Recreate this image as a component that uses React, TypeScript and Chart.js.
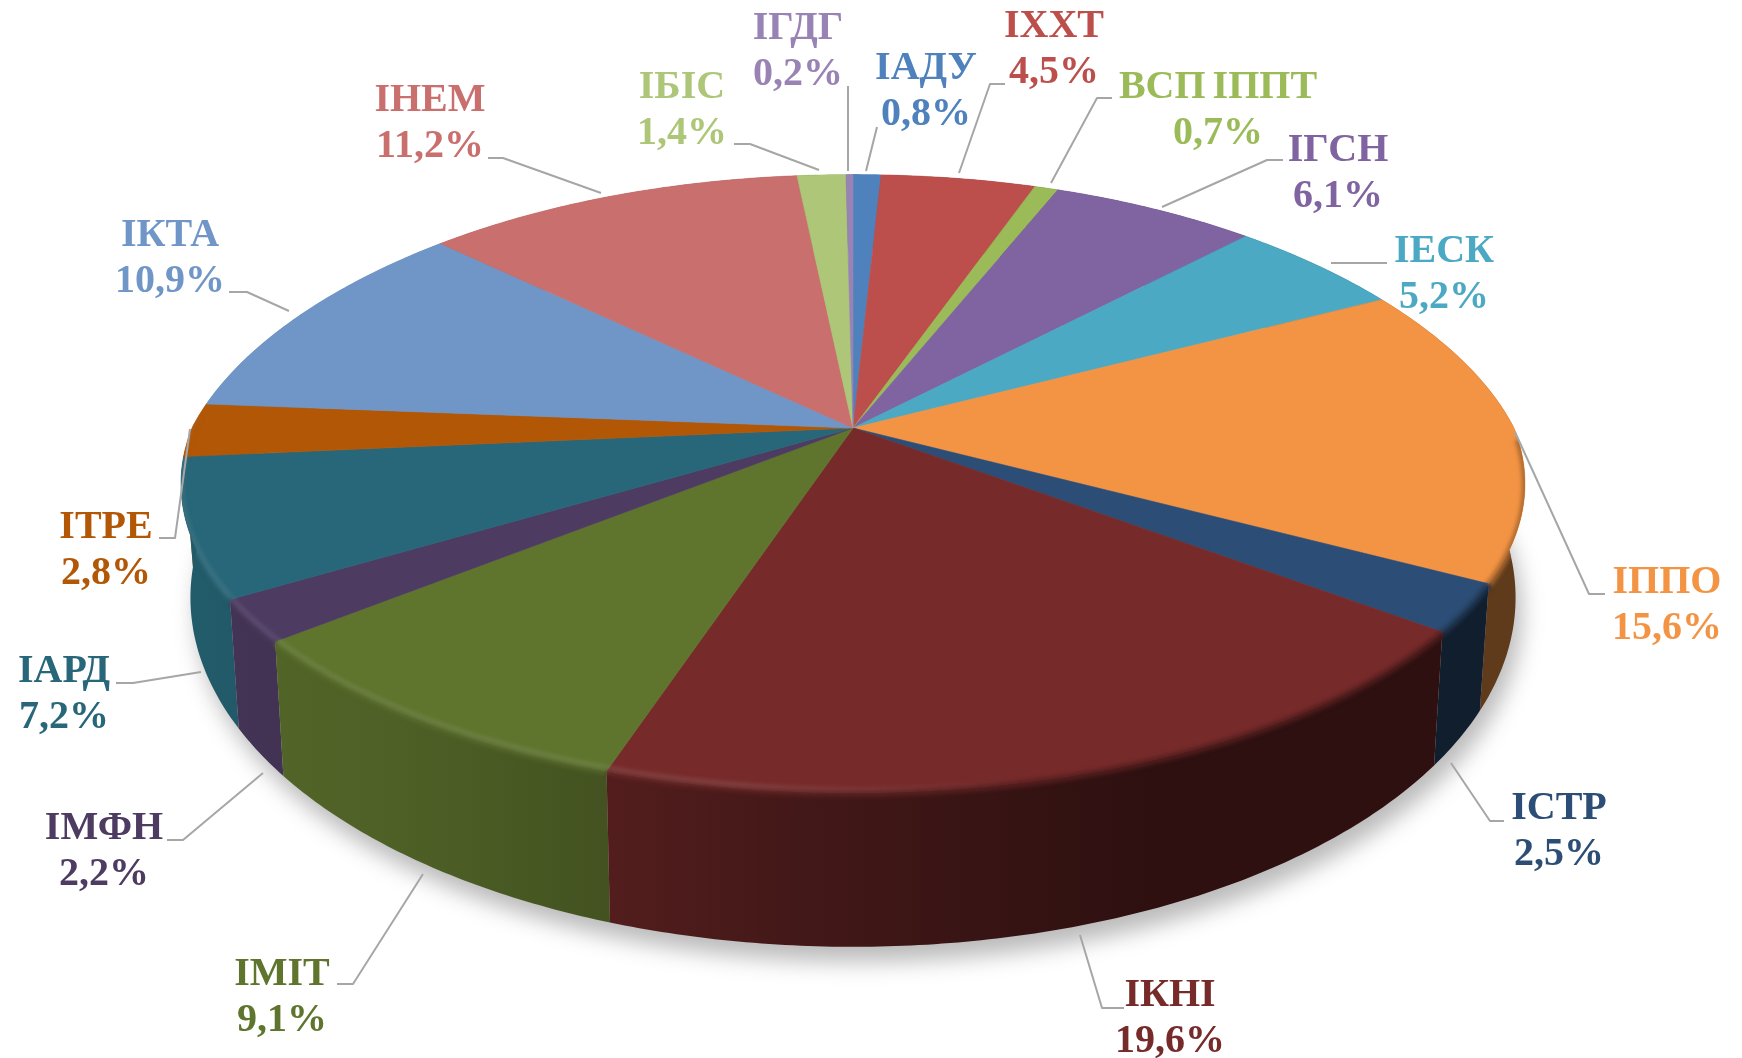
import React, { useEffect, useRef } from "react";
import { Chart, registerables } from "chart.js";

Chart.register(...registerables);

const categories = ["ІАДУ", "ІХХТ", "ВСП ІППТ", "ІГСН", "ІЕСК", "ІППО", "ІСТР", "ІКНІ", "ІМІТ", "ІМФН", "ІАРД", "ІТРЕ", "ІКТА", "ІНЕМ", "ІБІС", "ІГДГ"];
const shares = [0.8, 4.5, 0.7, 6.1, 5.2, 15.6, 2.5, 19.6, 9.1, 2.2, 7.2, 2.8, 10.9, 11.2, 1.4, 0.2];
const sliceColors = ["#4F81BD", "#BC4F4C", "#9BBB59", "#8064A2", "#4BA9C3", "#F39444", "#2C4D75", "#772A2A", "#5F752E", "#4D3B62", "#276779", "#B25706", "#7096C8", "#C96F6D", "#ADC677", "#9983B5"];

// label anchor (centre x, first baseline) for each category; the second line sits one line below
const labelX = [926, 1054, 1218, 1338, 1444, 1667, 1559, 1170, 282, 104, 64, 106, 170, 430, 682, 798];
const labelY1 = [79, 37, 98, 161, 262, 593, 819, 1006, 985, 839, 682, 538, 246, 111, 98, 39];
const leaderPaths: number[][][] = [
  [[877, 127], [866, 171]],
  [[1005, 84], [990, 84], [959, 173]],
  [[1112, 98], [1097, 98], [1051, 183]],
  [[1283, 160], [1267, 160], [1162, 207]],
  [[1387, 263], [1331, 263]],
  [[1605, 594], [1589, 594], [1515, 432]],
  [[1504, 821], [1490, 821], [1451, 763]],
  [[1124, 1008], [1102, 1008], [1080, 935]],
  [[337, 984], [353, 984], [423, 874]],
  [[167, 840], [183, 840], [263, 773]],
  [[116, 683], [133, 683], [201, 672]],
  [[159, 538], [175, 538], [190, 429]],
  [[229, 292], [247, 292], [289, 311]],
  [[488, 158], [503, 158], [601, 193]],
  [[734, 144], [750, 144], [819, 170]],
  [[848, 86], [848, 171]],
];

// projection of the flat disc into the tilted 3D view
const X0 = 853, Y0 = 428, AX = 661, AY = 299, K = 0.18;
const project = (theta: number) => {
  const u = Math.sin(theta), v = -Math.cos(theta), w = 1 - K * v;
  const squeeze = 1 - 0.05 * Math.max(0, -v) * Math.abs(u);
  return [X0 + (AX * u * squeeze) / w, Y0 + (AY * v) / w];
};
const lower = (p: number[]) => [X0 + 0.986 * (p[0] - X0), 728 + 1.13 * (p[1] - 599)];

const rgb = (hex: string) => [1, 3, 5].map((i) => parseInt(hex.slice(i, i + 2), 16));
const shade = (hex: string, f: number) => `rgb(${rgb(hex).map((c) => Math.round(c * f)).join(",")})`;
const wallStops: number[][] = [[190, 0.88], [400, 0.82], [610, 0.7], [800, 0.56], [1150, 0.39], [1742, 0.39]];

const samples = (a: number, b: number) => {
  const n = Math.max(2, Math.ceil((b - a) / 0.01));
  return Array.from({ length: n + 1 }, (_, i) => a + ((b - a) * i) / n);
};

const tracePoints = (ctx: CanvasRenderingContext2D, pts: number[][]) => {
  pts.forEach((p, i) => (i ? ctx.lineTo(p[0], p[1]) : ctx.moveTo(p[0], p[1])));
};

const pie3d = {
  id: "pie3d",
  beforeDatasetDraw(chart: any) {
    const ctx = chart.ctx as CanvasRenderingContext2D;
    const meta = chart.getDatasetMeta(0);
    const slices = meta.data.map((arc: any, i: number) => ({
      from: arc.startAngle + Math.PI / 2,
      to: arc.endAngle + Math.PI / 2,
      color: chart.data.datasets[0].backgroundColor[i] as string,
    }));
    const whole = samples(0, Math.PI * 2);
    const topRim = whole.map(project);
    const lowRim = topRim.map(lower);

    // soft drop shadow
    ctx.save();
    ctx.filter = "blur(11px)";
    ctx.fillStyle = "rgba(0,0,0,0.27)";
    ctx.beginPath();
    tracePoints(ctx, lowRim.map((p) => [p[0] + 6, p[1] + 15]));
    ctx.closePath();
    ctx.fill();
    ctx.restore();

    // side wall, back to front
    const depth = (s: any) => -Math.cos((s.from + s.to) / 2);
    for (const s of [...slices].sort((a, b) => depth(a) - depth(b))) {
      const g = ctx.createLinearGradient(0, 0, 1742, 0);
      wallStops.forEach(([x, f]) => g.addColorStop(x / 1742, shade(s.color, f)));
      const pts = samples(s.from, s.to).map(project);
      ctx.fillStyle = g;
      ctx.beginPath();
      tracePoints(ctx, pts);
      [...pts].reverse().forEach((p) => {
        const q = lower(p);
        ctx.lineTo(q[0], q[1]);
      });
      ctx.closePath();
      ctx.fill();
    }

    // top surface
    for (const s of slices) {
      ctx.fillStyle = s.color;
      ctx.strokeStyle = s.color;
      ctx.lineWidth = 0.6;
      ctx.beginPath();
      ctx.moveTo(X0, Y0);
      samples(s.from, s.to).map(project).forEach((p) => ctx.lineTo(p[0], p[1]));
      ctx.closePath();
      ctx.fill();
      ctx.stroke();
    }

    // rounded front rim, kept inside the body
    ctx.save();
    ctx.beginPath();
    tracePoints(ctx, topRim);
    ctx.closePath();
    tracePoints(ctx, lowRim);
    ctx.closePath();
    ctx.clip();
    const frontFrom = (92 * Math.PI) / 180, frontTo = (272 * Math.PI) / 180;
    for (const s of slices) {
      const a = Math.max(s.from, frontFrom), b = Math.min(s.to, frontTo);
      if (a >= b) continue;
      const arcPts = samples(a, b).map(project);
      const blend = ctx.createLinearGradient(0, 0, 1742, 0);
      wallStops.forEach(([x, f]) => blend.addColorStop(x / 1742, shade(s.color, (f + 1) / 2)));
      ctx.save();
      ctx.filter = "blur(2px)";
      ctx.lineCap = "butt";
      ctx.strokeStyle = blend;
      ctx.lineWidth = 6;
      ctx.beginPath();
      tracePoints(ctx, arcPts.map((p) => [p[0], p[1] + 1]));
      ctx.stroke();
      const glow = ctx.createLinearGradient(0, 0, 1742, 0);
      glow.addColorStop(0.1, "rgba(255,255,255,0.1)");
      glow.addColorStop(0.42, "rgba(255,255,255,0.12)");
      glow.addColorStop(0.6, "rgba(255,255,255,0)");
      ctx.strokeStyle = glow;
      ctx.lineWidth = 5;
      ctx.beginPath();
      tracePoints(ctx, arcPts.map((p) => [p[0], p[1] - 3]));
      ctx.stroke();
      ctx.restore();
    }
    ctx.restore();
    return false;
  },
  afterDraw(chart: any) {
    const ctx = chart.ctx as CanvasRenderingContext2D;
    ctx.save();
    ctx.strokeStyle = "#a6a6a6";
    ctx.lineWidth = 2;
    ctx.lineJoin = "round";
    leaderPaths.forEach((path) => {
      ctx.beginPath();
      tracePoints(ctx, path);
      ctx.stroke();
    });
    ctx.filter = "blur(0.5px)";
    ctx.font = 'bold 40px "Liberation Serif"';
    (ctx as any).wordSpacing = "-3px";
    ctx.textAlign = "center";
    ctx.textBaseline = "alphabetic";
    categories.forEach((name, i) => {
      ctx.fillStyle = sliceColors[i];
      ctx.fillText(name, labelX[i], labelY1[i]);
      ctx.fillText(`${shares[i].toFixed(1).replace(".", ",")}%`, labelX[i], labelY1[i] + 46);
    });
    ctx.restore();
  },
};

export default function App() {
  const ref = useRef<HTMLCanvasElement>(null);
  useEffect(() => {
    const chart = new Chart(ref.current!, {
      type: "pie",
      data: {
        labels: categories,
        datasets: [{ data: shares, backgroundColor: sliceColors, borderWidth: 0 }],
      },
      options: {
        animation: false,
        responsive: false,
        plugins: { legend: { display: false }, tooltip: { enabled: false } },
      },
      plugins: [pie3d],
    } as any);
    return () => chart.destroy();
  }, []);
  return (
    <div style={{ position: "fixed", left: 0, top: 0, width: 1742, height: 1058, background: "#fff" }}>
      <canvas ref={ref} width={1742} height={1058} style={{ display: "block" }} />
    </div>
  );
}
